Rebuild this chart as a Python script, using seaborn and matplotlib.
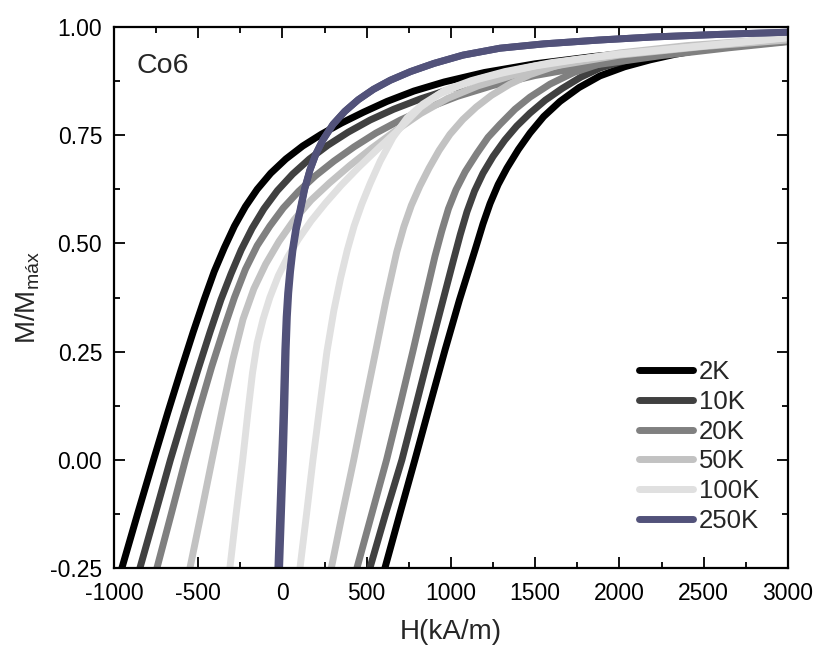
import numpy as np
import pandas as pd
import seaborn as sns
import matplotlib
matplotlib.use("Agg")
import matplotlib.pyplot as plt
from matplotlib.lines import Line2D
from matplotlib.ticker import MultipleLocator, FormatStrFormatter

# ---------------- data ----------------
temps = ["2K", "10K", "20K", "50K", "100K", "250K"]
colors = ["#000000", "#404040", "#808080", "#c2c2c2", "#e0e0e0", "#52527a"]

# descending (upper) branches / ascending (lower) branches
H_up_2K = [-953, -860, -765, -680, -600, -530, -465, -405, -345, -285, -220, -150, -70, 20, 120, 230, 350, 480, 620, 780, 960, 1200, 1500, 1850, 2250, 2650, 3000]
M_up_2K = [-0.25, -0.125, 0.0, 0.11, 0.21, 0.295, 0.37, 0.435, 0.49, 0.54, 0.585, 0.625, 0.662, 0.695, 0.725, 0.752, 0.778, 0.803, 0.828, 0.852, 0.873, 0.895, 0.915, 0.932, 0.947, 0.959, 0.968]
H_lo_2K = [608, 700, 786, 875, 965, 1050, 1143, 1190, 1232, 1280, 1332, 1400, 1469, 1550, 1647, 1760, 1884, 2030, 2181, 2330, 2478, 2740, 3000]
M_lo_2K = [-0.25, -0.12, 0.0, 0.127, 0.254, 0.369, 0.485, 0.545, 0.592, 0.636, 0.674, 0.717, 0.755, 0.793, 0.828, 0.86, 0.887, 0.908, 0.924, 0.937, 0.947, 0.96, 0.97]

H_up_10K = [-846, -755, -665, -580, -500, -430, -365, -305, -245, -180, -110, -30, 60, 160, 270, 390, 520, 660, 820, 1000, 1200, 1500, 1850, 2250, 2650, 3000]
M_up_10K = [-0.25, -0.125, 0.0, 0.11, 0.21, 0.295, 0.37, 0.43, 0.485, 0.535, 0.58, 0.622, 0.66, 0.695, 0.727, 0.757, 0.785, 0.81, 0.834, 0.857, 0.877, 0.9, 0.922, 0.94, 0.955, 0.967]
H_lo_10K = [519, 612, 709, 795, 876, 953, 1014, 1055, 1095, 1140, 1190, 1250, 1320, 1390, 1469, 1560, 1660, 1770, 1884, 2030, 2181, 2330, 2478, 2740, 3000]
M_lo_10K = [-0.25, -0.125, 0.0, 0.13, 0.254, 0.369, 0.46, 0.52, 0.573, 0.621, 0.662, 0.701, 0.739, 0.771, 0.801, 0.831, 0.858, 0.884, 0.905, 0.922, 0.935, 0.944, 0.952, 0.963, 0.972]

H_up_20K = [-745, -660, -576, -495, -420, -350, -285, -220, -150, -75, 5, 95, 195, 305, 425, 555, 700, 860, 1040, 1250, 1500, 1850, 2250, 2650, 3000]
M_up_20K = [-0.25, -0.125, 0.0, 0.115, 0.215, 0.3, 0.375, 0.44, 0.495, 0.54, 0.582, 0.62, 0.656, 0.69, 0.723, 0.755, 0.785, 0.813, 0.84, 0.865, 0.888, 0.912, 0.934, 0.952, 0.966]
H_lo_20K = [442, 530, 618, 700, 776, 840, 905, 945, 985, 1030, 1085, 1154, 1220, 1291, 1380, 1469, 1588, 1730, 1884, 2030, 2181, 2478, 2740, 3000]
M_lo_20K = [-0.25, -0.125, 0.0, 0.13, 0.254, 0.362, 0.47, 0.528, 0.58, 0.624, 0.666, 0.708, 0.745, 0.775, 0.81, 0.838, 0.868, 0.895, 0.915, 0.93, 0.941, 0.955, 0.965, 0.974]

H_up_50K = [-549, -483, -418, -355, -294, -234, -170, -100, -20, 70, 170, 280, 400, 530, 670, 820, 980, 1160, 1380, 1650, 2000, 2500, 3000]
M_up_50K = [-0.25, -0.125, 0.0, 0.12, 0.232, 0.325, 0.395, 0.452, 0.505, 0.555, 0.6, 0.64, 0.68, 0.72, 0.76, 0.8, 0.835, 0.864, 0.89, 0.912, 0.935, 0.955, 0.97]
H_lo_50K = [290, 355, 423, 490, 555, 615, 678, 720, 765, 815, 870, 930, 994, 1070, 1150, 1240, 1350, 1469, 1620, 1800, 2000, 2400, 3000]
M_lo_50K = [-0.25, -0.125, 0.0, 0.13, 0.254, 0.37, 0.48, 0.538, 0.588, 0.632, 0.674, 0.715, 0.752, 0.786, 0.815, 0.842, 0.868, 0.89, 0.91, 0.927, 0.94, 0.957, 0.974]

H_up_100K = [-312, -275, -236, -205, -178, -150, -115, -75, -25, 30, 95, 170, 255, 350, 455, 570, 690, 820, 960, 1120, 1320, 1600, 2000, 2500, 3000]
M_up_100K = [-0.25, -0.125, 0.0, 0.11, 0.2, 0.27, 0.325, 0.375, 0.425, 0.468, 0.51, 0.552, 0.593, 0.635, 0.677, 0.72, 0.763, 0.815, 0.853, 0.876, 0.897, 0.918, 0.938, 0.957, 0.976]
H_lo_100K = [104, 143, 181, 222, 264, 305, 345, 385, 425, 470, 520, 580, 656, 740, 834, 930, 1036, 1160, 1309, 1500, 1750, 2000, 2500, 3000]
M_lo_100K = [-0.25, -0.125, 0.0, 0.125, 0.25, 0.345, 0.42, 0.485, 0.54, 0.59, 0.638, 0.69, 0.745, 0.79, 0.822, 0.845, 0.862, 0.879, 0.894, 0.91, 0.925, 0.937, 0.956, 0.975]

H_up_250K = [-27, -16, -5, 5, 14, 22, 31, 43, 58, 78, 104, 130, 163, 200, 240, 300, 370, 450, 540, 640, 760, 900, 1071, 1291, 1550, 1884, 2200, 2600, 3000]
M_up_250K = [-0.25, -0.125, 0.0, 0.125, 0.254, 0.33, 0.385, 0.435, 0.483, 0.532, 0.577, 0.625, 0.670, 0.708, 0.739, 0.775, 0.805, 0.832, 0.856, 0.877, 0.897, 0.916, 0.935, 0.951, 0.961, 0.97, 0.977, 0.983, 0.988]
H_lo_250K = [-17, -6, 5, 14, 22, 29, 37, 48, 62, 82, 107, 132, 164, 200, 240, 300, 370, 450, 540, 640, 760, 900, 1071, 1291, 1550, 1884, 2200, 2600, 3000]
M_lo_250K = [-0.25, -0.125, 0.0, 0.125, 0.254, 0.33, 0.385, 0.435, 0.483, 0.532, 0.577, 0.625, 0.670, 0.708, 0.739, 0.775, 0.805, 0.832, 0.856, 0.877, 0.897, 0.916, 0.935, 0.951, 0.961, 0.97, 0.977, 0.983, 0.988]

branches = {
    "2K": [(H_up_2K, M_up_2K), (H_lo_2K, M_lo_2K)],
    "10K": [(H_up_10K, M_up_10K), (H_lo_10K, M_lo_10K)],
    "20K": [(H_up_20K, M_up_20K), (H_lo_20K, M_lo_20K)],
    "50K": [(H_up_50K, M_up_50K), (H_lo_50K, M_lo_50K)],
    "100K": [(H_up_100K, M_up_100K), (H_lo_100K, M_lo_100K)],
    "250K": [(H_up_250K, M_up_250K), (H_lo_250K, M_lo_250K)],
}

xticks = [-1000, -500, 0, 500, 1000, 1500, 2000, 2500, 3000]
yticks = [-0.25, 0.0, 0.25, 0.5, 0.75, 1.0]

# ---------------- styling ----------------
sns.set_style("ticks")
plt.rcParams["font.family"] = ["Liberation Sans", "DejaVu Sans"]
plt.rcParams["mathtext.fontset"] = "custom"
plt.rcParams["mathtext.rm"] = "Liberation Sans"
plt.rcParams["axes.unicode_minus"] = False

fig = plt.figure(figsize=(8.14, 6.46), dpi=100)
ax = fig.add_axes([0.140, 0.1207, 0.828, 0.8375])

palette = dict(zip(temps, colors))
lw = 5.0
for t in temps:
    for hh, mm in branches[t]:
        df = pd.DataFrame({"H": hh, "M": mm})
        sns.lineplot(data=df, x="H", y="M", color=palette[t], linewidth=lw,
                     estimator=None, sort=False, ax=ax, legend=False,
                     solid_capstyle="projecting", solid_joinstyle="round")

ax.set_xlim(-1000, 3000)
ax.set_ylim(-0.25, 1.0)
ax.set_xticks(xticks)
ax.set_yticks(yticks)
ax.xaxis.set_minor_locator(MultipleLocator(250))
ax.yaxis.set_minor_locator(MultipleLocator(0.125))
ax.yaxis.set_major_formatter(FormatStrFormatter("%.2f"))
ax.tick_params(which="both", direction="in", top=True, right=True, width=1.3, colors="black")
ax.tick_params(axis="x", which="major", length=8, labelsize=16.5, pad=10)
ax.tick_params(axis="y", which="major", length=8, labelsize=16.5, pad=8.5)
ax.tick_params(which="minor", length=4)
for s in ax.spines.values():
    s.set_linewidth(1.6)
    s.set_color("black")

ax.set_xlabel("H(kA/m)", fontsize=20, labelpad=10)
ax.set_ylabel(r"M/M$_{\mathregular{máx}}$", fontsize=20, labelpad=6)

ax.text(0.034, 0.952, "Co6", transform=ax.transAxes, fontsize=20.5, va="top", ha="left")

handles = [Line2D([0], [0], color=c, linewidth=lw, solid_capstyle="round") for c in colors]
ax.legend(handles, temps, loc="center", bbox_to_anchor=(0.868, 0.2246), frameon=False,
          fontsize=18.5, handlelength=2.1, handletextpad=0.25, labelspacing=0.22,
          borderpad=0.2)

fig.savefig("out.png", dpi=100)
